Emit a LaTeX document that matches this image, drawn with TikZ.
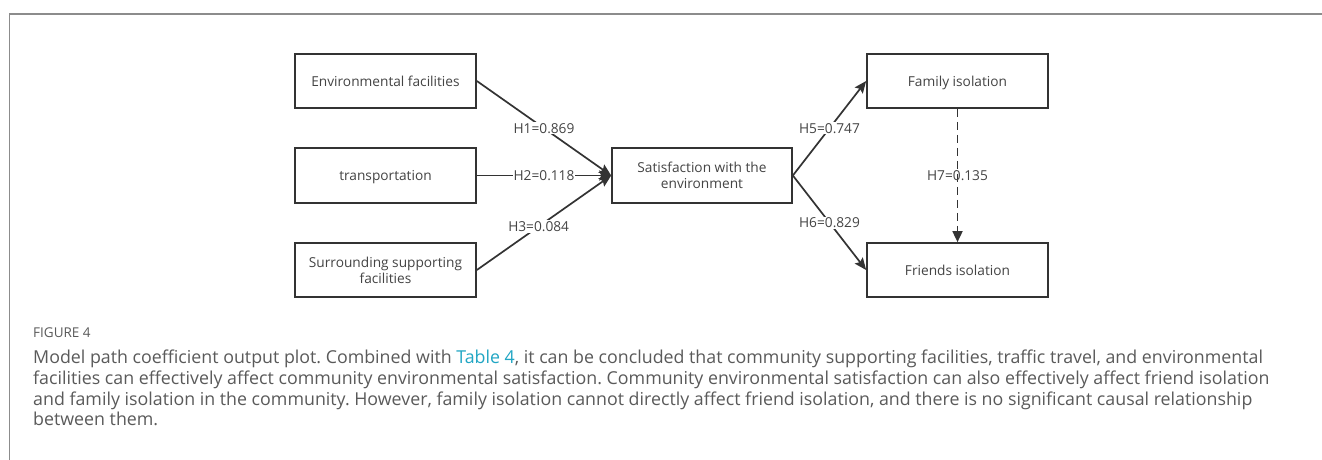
\documentclass[tikz,border=0pt]{standalone}
\usepackage{fontspec}
\setmainfont{Open Sans}
\usetikzlibrary{arrows.meta}
\definecolor{framegray}{HTML}{8C8C8C}
\definecolor{boxline}{HTML}{333333}
\definecolor{boxtext}{HTML}{444444}
\definecolor{captext}{HTML}{5A5A5A}
\definecolor{linkteal}{HTML}{21A6C4}
\begin{document}
\frenchspacing
\begin{tikzpicture}[x=1pt,y=-1pt,
  box/.style={draw=boxline,line width=1.7pt,minimum width=181pt,minimum height=54pt,
    inner sep=2pt,align=center,text depth=0pt,text=boxtext,font=\fontsize{13.7}{16}\selectfont},
  conn/.style={draw=boxline,line width=1.7pt,-{Stealth[length=12pt,width=10pt,inset=2pt]}},
  lbl/.style={fill=white,inner sep=1pt,text=boxtext,font=\fontsize{13.7}{16}\selectfont},
  captxt/.style={anchor=base west,inner sep=0pt,text=captext,font=\fontsize{17.8}{20}\selectfont}]
\useasboundingbox (0,0) rectangle (1322,460);
\fill[white] (0,0) rectangle (1322,460);
% frame
\draw[framegray,line width=1.5pt] (9.5,460) -- (9.5,14) -- (1322,14);
% nodes
\node[box] (env) at (385.5,81) {Environmental facilities};
\node[box,minimum height=55pt] (trans) at (385.5,175.5) {transportation};
\node[box] (surr) at (385.5,270) {Surrounding supporting\\facilities};
\node[box,minimum width=180pt,minimum height=55pt] (sat) at (702,175.5) {Satisfaction with the\\environment};
\node[box] (fam) at (957.5,81) {Family isolation};
\node[box] (fri) at (957.5,270) {Friends isolation};
% connectors
\draw[conn] (env.east) -- node[lbl]{H1=0.869} (sat.west);
\draw[conn] (trans.east) -- node[lbl]{H2=0.118} (sat.west);
\draw[conn] (surr.east) -- node[lbl,pos=0.46]{H3=0.084} (sat.west);
\draw[conn] (sat.east) -- node[lbl]{H5=0.747} (fam.west);
\draw[conn] (sat.east) -- node[lbl]{H6=0.829} (fri.west);
\draw[conn,dashed,dash pattern=on 8pt off 5pt,-{Triangle[length=11pt,width=10pt]}] (fam.south) -- node[inner sep=1pt,text=boxtext,font=\fontsize{13.7}{16}\selectfont]{H7=0.135} (fri.north);
% caption
\node[captxt,font=\fontsize{13.5}{16}\selectfont] (fig) at (33,337) {FIGURE 4};
\node[captxt] (l1) at (33,363) {Model path coefficient output plot. Combined with \textcolor{linkteal}{Table 4}, it can be concluded that community supporting facilities, traffic travel, and environmental};
\node[captxt] (l2) at (33,384) {facilities can effectively affect community environmental satisfaction. Community environmental satisfaction can also effectively affect friend isolation};
\node[captxt] (l3) at (33,405) {and family isolation in the community. However, family isolation cannot directly affect friend isolation, and there is no significant causal relationship};
\node[captxt] (l4) at (33,425.5) {between them.};
\end{tikzpicture}
\end{document}
